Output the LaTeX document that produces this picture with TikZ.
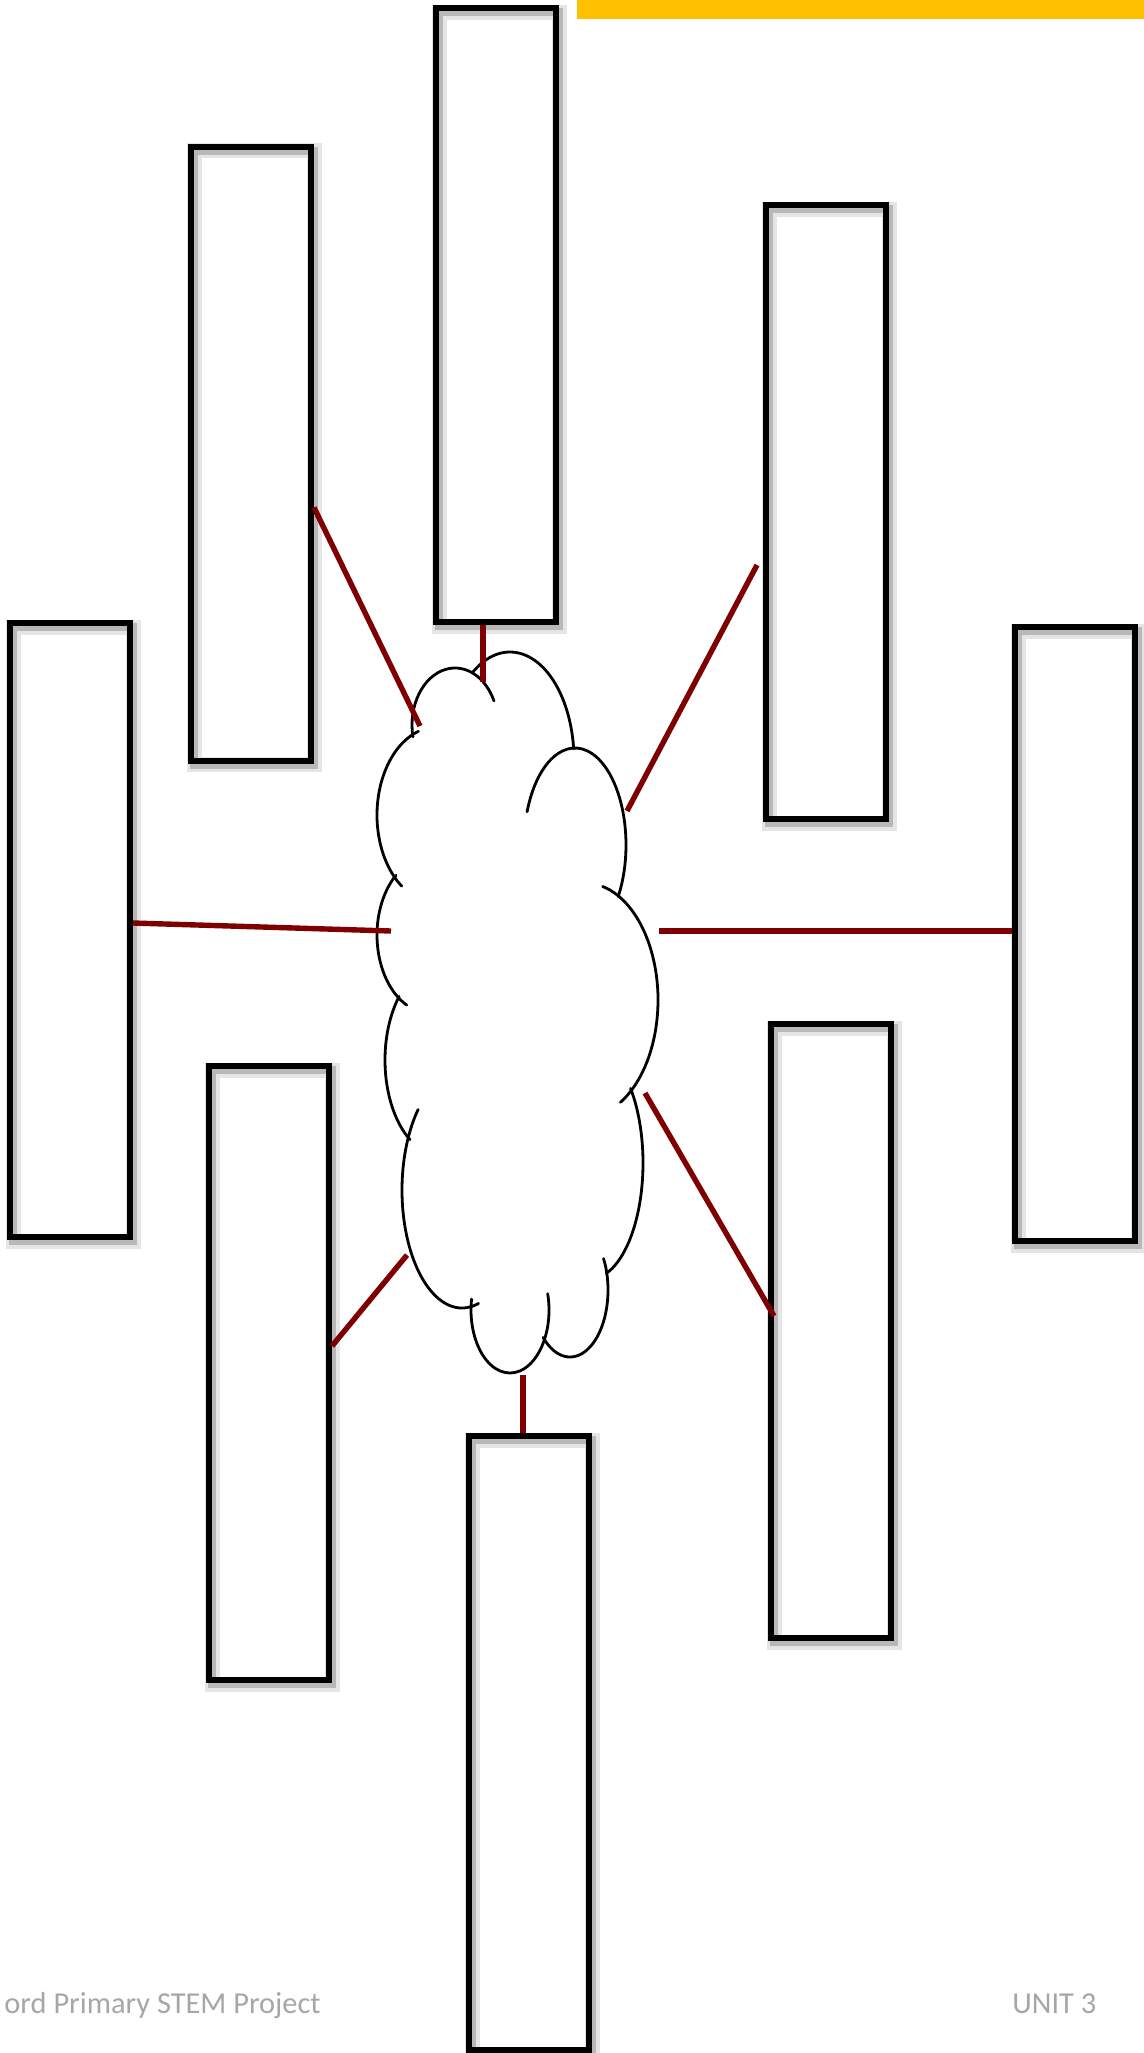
\documentclass[tikz,border=0pt]{standalone}
\usepackage{fontspec}
\setmainfont{Carlito}
\usepackage{xcolor}
\usepackage{tikz}

\definecolor{linkred}{HTML}{7F0000}
\definecolor{barfill}{HTML}{FFC000}
\definecolor{footgray}{HTML}{A6A6A6}

\begin{document}
\begin{tikzpicture}[
        x=0.5pt, y=-0.5pt,
        box/.style={rectangle, draw, line width=3pt, minimum width=60pt, minimum height=307pt, inner sep=0pt,
            preaction={draw=black!10, line width=7.5pt, transform canvas={shift={(1.5pt,-2pt)}}},
            preaction={draw=black!28, line width=4pt, transform canvas={shift={(1.5pt,-2pt)}}}},
        link/.style={draw=linkred, line width=2.7pt},
        puff/.style={line width=1.4pt, line cap=round},
        footer/.style={inner sep=0pt, text=footgray, font=\fontsize{15.2}{18}\selectfont}
    ]
    \useasboundingbox (0,0) rectangle (1144,2053);

    % top bar
    \fill[barfill] (577,0) rectangle (1144,19);

    % boxes
    \node (b1) [box] at (496,315) {};
    \node (b2) [box] at (251,453.5) {};
    \node (b3) [box] at (826,512) {};
    \node (b4) [box] at (70,930) {};
    \node (b5) [box] at (1075,934) {};
    \node (b6) [box] at (269,1373) {};
    \node (b7) [box] at (831,1331) {};
    \node (b8) [box] at (529,1743) {};

    % cloud
    \draw[puff] (455,725) ++(168:43 and 57) arc[start angle=168, end angle=335, x radius=43, y radius=57];
    \draw[puff] (510,760) ++(234:64 and 108) arc[start angle=234, end angle=354, x radius=64, y radius=108];
    \draw[puff] (575,845) ++(200:51 and 97) arc[start angle=200, end angle=392, x radius=51, y radius=97];
    \draw[puff] (585,1000) ++(-76:73 and 117) arc[start angle=-76, end angle=61, x radius=73, y radius=117];
    \draw[puff] (590,1163) ++(-40:53 and 116) arc[start angle=-40, end angle=72, x radius=53, y radius=116];
    \draw[puff] (570,1290) ++(-28:38 and 67) arc[start angle=-28, end angle=135, x radius=38, y radius=67];
    \draw[puff] (510,1310) ++(-15:39 and 63) arc[start angle=-15, end angle=190, x radius=39, y radius=63];
    \draw[puff] (462,1190) ++(74:60 and 118) arc[start angle=74, end angle=223, x radius=60, y radius=118];
    \draw[puff] (440,1060) ++(222:55 and 95) arc[start angle=222, end angle=123, x radius=55, y radius=95];
    \draw[puff] (430,935) ++(230:53 and 78) arc[start angle=230, end angle=116, x radius=53, y radius=78];
    \draw[puff] (437,815) ++(252:60 and 88) arc[start angle=252, end angle=126, x radius=60, y radius=88];

    % ends on the cloud
    \coordinate (cT) at (483,682);
    \coordinate (cUL) at (420,726);
    \coordinate (cUR) at (627,811);
    \coordinate (cL) at (391,931);
    \coordinate (cR) at (659,931);
    \coordinate (cLR) at (645,1093);
    \coordinate (cLL) at (407,1255);
    \coordinate (cB) at (523,1375);

    % links
    \draw[link] (b1.south -| cT) -- (cT);
    \draw[link] ([yshift=-27pt]b2.east) -- (cUL);
    \draw[link] (cUR) -- ([xshift=-3pt, yshift=-26.5pt]b3.west);
    \draw[link] ([yshift=3.5pt]b4.east) -- (cL);
    \draw[link] (cR) -- (b5.west |- cR);
    \draw[link] (cLR) -- ([xshift=3pt, yshift=7.5pt]b7.west);
    \draw[link] (cLL) -- ([yshift=13.5pt]b6.east);
    \draw[link] (cB) -- (b8.north -| cB);

    % footer
    \node (footL) [footer, anchor=base east] at (321,2013) {ord Primary STEM Project};
    \node (footR) [footer, anchor=base west] at (1012,2013) {UNIT 3};
\end{tikzpicture}
\end{document}
